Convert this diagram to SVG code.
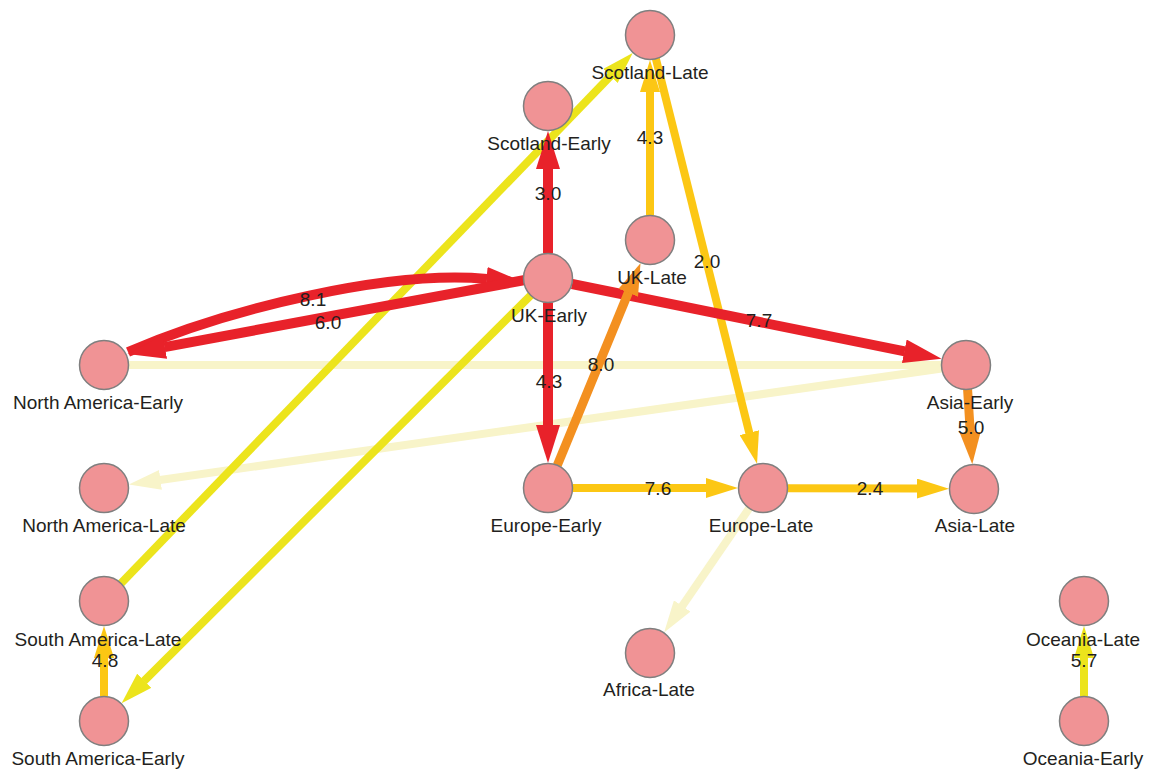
<svg xmlns="http://www.w3.org/2000/svg" width="1149" height="770" viewBox="0 0 1149 770">
<style>
.e{fill:none;stroke-linecap:butt}
.red{stroke:#e8222a;stroke-width:10}
.org{stroke:#f39020;stroke-width:9}
.gold{stroke:#fcc714;stroke-width:8}
.yel{stroke:#ece41c;stroke-width:8}
.pale{stroke:#f8f4c9;stroke-width:8}
.n circle{fill:#f09395;stroke:#7f7f7f;stroke-width:1.5}
text{font-family:"Liberation Sans",Arial,sans-serif;font-size:19px;fill:#231f20;text-anchor:middle}
</style>
<defs>
<marker id="mRed" viewBox="0 0 38 24" refX="0.5" refY="12" markerWidth="38" markerHeight="24" markerUnits="userSpaceOnUse" orient="auto"><path d="M0,0 L38,12 L0,24 z" fill="#e8222a"/></marker>
<marker id="mOrg" viewBox="0 0 32 21" refX="0.5" refY="10.5" markerWidth="32" markerHeight="21" markerUnits="userSpaceOnUse" orient="auto"><path d="M0,0 L32,10.5 L0,21 z" fill="#f39020"/></marker>
<marker id="mGold" viewBox="0 0 32 20" refX="0.5" refY="10" markerWidth="32" markerHeight="20" markerUnits="userSpaceOnUse" orient="auto"><path d="M0,0 L32,10 L0,20 z" fill="#fcc714"/></marker>
<marker id="mYel" viewBox="0 0 32 20" refX="0.5" refY="10" markerWidth="32" markerHeight="20" markerUnits="userSpaceOnUse" orient="auto"><path d="M0,0 L32,10 L0,20 z" fill="#ece41c"/></marker>
<marker id="mPale" viewBox="0 0 32 20" refX="0.5" refY="10" markerWidth="32" markerHeight="20" markerUnits="userSpaceOnUse" orient="auto"><path d="M0,0 L32,10 L0,20 z" fill="#f8f4c9"/></marker>
</defs>
<rect width="1149" height="770" fill="#ffffff"/>
<g id="connectors">
<path class="e pale" d="M941.5,365 L128.5,365"/>
<path class="e pale" d="M941.7,368.5 L160,480" marker-end="url(#mPale)"/>
<path class="e pale" d="M749.2,508.2 L681.9,606.4" marker-end="url(#mPale)"/>
<path class="e yel" d="M121,583.4 L610.8,75.6" marker-end="url(#mYel)"/>
<path class="e yel" d="M530.7,295.3 L143.9,681.1" marker-end="url(#mYel)"/>
<path class="e yel" d="M1084,696.5 L1084,657.5" marker-end="url(#mYel)"/>
<path class="e gold" d="M650,215.5 L650,91.5" marker-end="url(#mGold)"/>
<path class="e gold" d="M655.9,58.8 L749.4,433.2" marker-end="url(#mGold)"/>
<path class="e gold" d="M572.5,488 L706.5,488" marker-end="url(#mGold)"/>
<path class="e gold" d="M787.5,488.2 L917.5,488.6" marker-end="url(#mGold)"/>
<path class="e gold" d="M104,696.5 L104,657.5" marker-end="url(#mGold)"/>
<path class="e red" d="M548,253.5 L548,168.5" marker-end="url(#mRed)"/>
<path class="e red" d="M128,352 C230,308 390,270 487,279" marker-end="url(#mRed)"/>
<path class="e red" d="M525,280 L164.4,347.1" marker-end="url(#mRed)"/>
<path class="e red" d="M572,284 L904.8,351.4" marker-end="url(#mRed)"/>
<path class="e red" d="M548,302.5 L548,425.5" marker-end="url(#mRed)"/>
<path class="e org" d="M557.3,465.3 L628.5,292.3" marker-end="url(#mOrg)"/>
<path class="e org" d="M967.6,389.4 L970.3,432.7" marker-end="url(#mOrg)"/>
</g>
<g id="node-scotland-late" class="n"><circle cx="650" cy="35" r="24.5"/><text x="650" y="79">Scotland-Late</text></g>
<g id="node-scotland-early" class="n"><circle cx="548" cy="106" r="24.5"/><text x="549" y="150">Scotland-Early</text></g>
<g id="node-uk-late" class="n"><circle cx="650" cy="240" r="24.5"/><text x="652" y="284">UK-Late</text></g>
<g id="node-uk-early" class="n"><circle cx="548" cy="278" r="24.5"/><text x="549" y="322">UK-Early</text></g>
<g id="node-north-america-early" class="n"><circle cx="104" cy="365" r="24.5"/><text x="98" y="409">North America-Early</text></g>
<g id="node-asia-early" class="n"><circle cx="966" cy="365" r="24.5"/><text x="970" y="409">Asia-Early</text></g>
<g id="node-north-america-late" class="n"><circle cx="104" cy="488" r="24.5"/><text x="104" y="532">North America-Late</text></g>
<g id="node-europe-early" class="n"><circle cx="548" cy="488" r="24.5"/><text x="546" y="532">Europe-Early</text></g>
<g id="node-europe-late" class="n"><circle cx="763" cy="488" r="24.5"/><text x="761" y="532">Europe-Late</text></g>
<g id="node-asia-late" class="n"><circle cx="974" cy="489" r="24.5"/><text x="975" y="532">Asia-Late</text></g>
<g id="node-south-america-late" class="n"><circle cx="104" cy="601" r="24.5"/><text x="98" y="646">South America-Late</text></g>
<g id="node-africa-late" class="n"><circle cx="650" cy="653" r="24.5"/><text x="649" y="696">Africa-Late</text></g>
<g id="node-oceania-late" class="n"><circle cx="1084" cy="601" r="24.5"/><text x="1083" y="646">Oceania-Late</text></g>
<g id="node-south-america-early" class="n"><circle cx="104" cy="721" r="24.5"/><text x="98" y="765">South America-Early</text></g>
<g id="node-oceania-early" class="n"><circle cx="1084" cy="721" r="24.5"/><text x="1083" y="765">Oceania-Early</text></g>
<g id="edge-labels">
<text x="548" y="200">3.0</text>
<text x="650" y="144">4.3</text>
<text x="707" y="268">2.0</text>
<text x="759" y="327">7.7</text>
<text x="313" y="306">8.1</text>
<text x="328" y="329">6.0</text>
<text x="601" y="371">8.0</text>
<text x="549" y="388">4.3</text>
<text x="971" y="434">5.0</text>
<text x="658" y="495">7.6</text>
<text x="870" y="495">2.4</text>
<text x="105" y="667">4.8</text>
<text x="1084" y="667">5.7</text>
</g>
</svg>
